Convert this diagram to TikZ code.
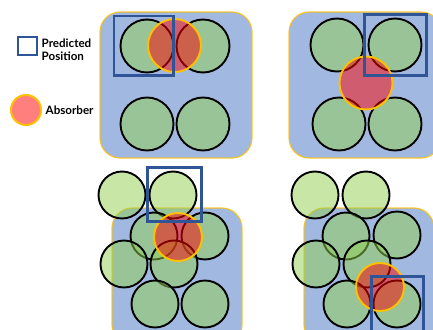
\documentclass[tikz,border=0pt]{standalone}
\usepackage{fontspec}
\setmainfont{Lato}
\begin{document}
\begin{tikzpicture}[x=1pt,y=-1pt,
  panel/.style={fill=pblue,fill opacity=0.5,draw=gold,draw opacity=0.8,line width=1.2pt,rounded corners=20pt},
  gc/.style={circle,inner sep=0pt,fill=cgreen,fill opacity=0.5,draw=black,draw opacity=1,line width=1.9pt},
  big/.style={gc,minimum size=53pt},
  small/.style={gc,minimum size=47pt},
  absorb/.style={circle,inner sep=0pt,fill=red,fill opacity=0.5,draw=gold,draw opacity=1,line width=1.9pt},
  predbox/.style={draw=boxblue,line width=2.3pt},
  lbl/.style={font=\bfseries\fontsize{11.6}{13}\selectfont,text=black,inner sep=0pt,align=left}
]
\definecolor{pblue}{HTML}{4472C4}
\definecolor{gold}{HTML}{FFC000}
\definecolor{cgreen}{HTML}{92D050}
\definecolor{boxblue}{HTML}{2F5597}
\useasboundingbox (0,0) rectangle (433,329);
\clip (0,0) rectangle (433,329);

% legend
\coordinate (lb1) at (18,37);
\coordinate (lb2) at (37,55);
\draw[predbox] (lb1) rectangle (lb2);
\node[lbl,anchor=west] (lpred) at (41.5,50) {Predicted\\Position};
\node[absorb,minimum size=30pt,line width=2pt] (labs) at (26,110) {};
\node[lbl,anchor=west] (labstxt) at (45.5,110) {Absorber};

% panel 1
\coordinate (r1a) at (100,12);
\coordinate (r1b) at (252,158);
\draw[panel] (r1a) rectangle (r1b);
\node[big] (c1a) at (147,46) {};
\node[big] (c1b) at (203,46) {};
\node[big] (c1c) at (147,124) {};
\node[big] (c1d) at (203,124) {};
\node[absorb,minimum size=53pt] (a1) at (174.5,45.5) {};
\coordinate (b1a) at (114,16);
\coordinate (b1b) at (173.5,75.5);
\draw[predbox] (b1a) rectangle (b1b);

% panel 2
\coordinate (r2a) at (289,12);
\coordinate (r2b) at (441,158);
\draw[panel] (r2a) rectangle (r2b);
\node[big] (c2a) at (337,45) {};
\node[big] (c2b) at (395,45) {};
\node[big] (c2c) at (339,124) {};
\node[big] (c2d) at (395,124) {};
\node[absorb,minimum size=53pt] (a2) at (366,83) {};
\coordinate (b2a) at (364.5,14.5);
\coordinate (b2b) at (426.5,75.5);
\draw[predbox] (b2a) rectangle (b2b);

% panel 3
\coordinate (r3a) at (112,208);
\coordinate (r3b) at (242,345);
\draw[panel] (r3a) rectangle (r3b);
\node[small] (c3a) at (122,195) {};
\node[small] (c3b) at (173,195) {};
\node[small] (c3c) at (154,236) {};
\node[small] (c3d) at (205,236) {};
\node[small] (c3e) at (124,264) {};
\node[small] (c3f) at (174,264) {};
\node[small] (c3g) at (155,304) {};
\node[small] (c3h) at (205,304) {};
\node[absorb,minimum size=48pt] (a3) at (178,237) {};
\coordinate (b3a) at (147.5,167.5);
\coordinate (b3b) at (201.5,221.5);
\draw[predbox] (b3a) rectangle (b3b);

% panel 4
\coordinate (r4a) at (304,208);
\coordinate (r4b) at (434,345);
\draw[panel] (r4a) rectangle (r4b);
\node[small] (c4a) at (315,195) {};
\node[small] (c4b) at (366,195) {};
\node[small] (c4c) at (346,236) {};
\node[small] (c4d) at (397,235) {};
\node[small] (c4e) at (316,264) {};
\node[small] (c4f) at (367,264) {};
\node[small] (c4g) at (347,304) {};
\node[small] (c4h) at (397,304) {};
\node[absorb,minimum size=48pt] (a4) at (380,287) {};
\coordinate (b4a) at (371.5,276.5);
\coordinate (b4b) at (423.5,340);
\draw[predbox] (b4a) rectangle (b4b);
\end{tikzpicture}
\end{document}
